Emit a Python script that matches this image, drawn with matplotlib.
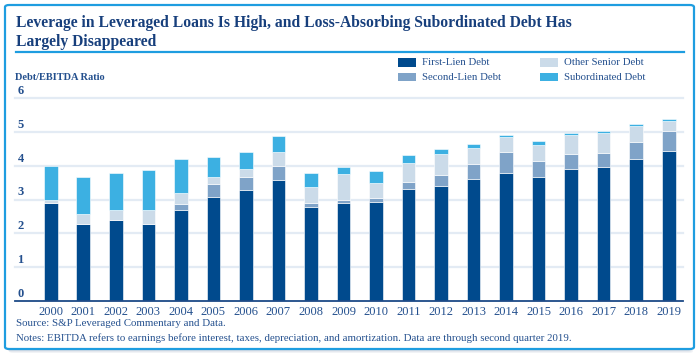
import matplotlib
matplotlib.use('Agg')
import matplotlib.pyplot as plt
import numpy as np
from matplotlib.patches import FancyBboxPatch, Rectangle
from matplotlib.lines import Line2D
import matplotlib.transforms as mtransforms

# ---------------- data ----------------
years = [str(y) for y in range(2000, 2020)]
first_lien = [2.89, 2.28, 2.39, 2.28, 2.69, 3.08, 3.27, 3.57, 2.78, 2.89,
              2.94, 3.30, 3.41, 3.60, 3.80, 3.66, 3.91, 3.96, 4.21, 4.44]
second_lien = [0.0, 0.0, 0.0, 0.0, 0.19, 0.39, 0.41, 0.41, 0.13, 0.10,
               0.11, 0.21, 0.33, 0.45, 0.60, 0.47, 0.44, 0.42, 0.50, 0.60]
other_senior = [0.10, 0.30, 0.30, 0.41, 0.30, 0.21, 0.23, 0.42, 0.47, 0.77,
                0.43, 0.56, 0.60, 0.49, 0.45, 0.48, 0.55, 0.58, 0.47, 0.30]
subordinated = [0.99, 1.10, 1.10, 1.19, 1.01, 0.58, 0.50, 0.47, 0.41, 0.20,
                0.37, 0.25, 0.17, 0.11, 0.05, 0.13, 0.06, 0.06, 0.06, 0.06]
series_labels = ["First-Lien Debt", "Second-Lien Debt", "Other Senior Debt", "Subordinated Debt"]
series_colors = ["#004a8d", "#7fa3c8", "#cbdbe9", "#3cb0e2"]
y_ticks = [0, 1, 2, 3, 4, 5, 6]

title_lines = ["Leverage in Leveraged Loans Is High, and Loss-Absorbing Subordinated Debt Has",
               "Largely Disappeared"]
y_title = "Debt/EBITDA Ratio"
source_txt = "Source: S&P Leveraged Commentary and Data."
notes_txt = ("Notes: EBITDA refers to earnings before interest, taxes, depreciation, "
             "and amortization. Data are through second quarter 2019.")

# ---------------- style ----------------
W, H = 700, 359
SERIF = ["Liberation Serif", "DejaVu Serif"]
TITLE_C = "#173f7c"
TEXT_C = "#24508e"
FRAME_C = "#1e9de0"
GRID_C = "#e3ebf4"

fig = plt.figure(figsize=(W / 100, H / 100), dpi=100)
fig.patch.set_facecolor("white")
renderer = fig.canvas.get_renderer()


def fx(x):
    return x / W


def fy(y):
    return 1 - y / H


def fit_size(s, target_px, **kw):
    t = fig.text(0, 0, s, fontsize=10, **kw)
    w = t.get_window_extent(renderer).width
    t.remove()
    return 10 * target_px / w


# ---------------- frame with shadow ----------------
for i, a in enumerate([0.10, 0.10, 0.12, 0.14]):
    off = 4 - i
    sh = FancyBboxPatch((fx(5 + off), fy(349 + off)), fx(689 - 5), (349 - 5) / H,
                        boxstyle="round,pad=0,rounding_size=0.006",
                        transform=fig.transFigure, facecolor="#7f8fa8", edgecolor="none",
                        alpha=a, zorder=0)
    fig.patches.append(sh)
frame = FancyBboxPatch((fx(5), fy(349)), fx(694 - 5), (349 - 5) / H,
                       boxstyle="round,pad=0,rounding_size=0.006",
                       transform=fig.transFigure, facecolor="white", edgecolor=FRAME_C,
                       linewidth=1.6, zorder=1)
fig.patches.append(frame)

# title
tsize = fit_size("Leverage in Leveraged Loa", 184, family=SERIF, fontweight="bold")
fig.text(fx(16), fy(27), title_lines[0], family=SERIF, fontweight="bold", fontsize=tsize,
         color=TITLE_C, va="baseline", ha="left", zorder=3)
fig.text(fx(16), fy(46), title_lines[1], family=SERIF, fontweight="bold", fontsize=tsize,
         color=TITLE_C, va="baseline", ha="left", zorder=3)
fig.lines.append(Line2D([fx(16), fx(684)], [fy(52), fy(52)], transform=fig.transFigure,
                        color=FRAME_C, linewidth=1.6, zorder=3))

# ---------------- axes ----------------
ax_left, ax_right, ax_bottom, ax_top = 15, 683, 300.7, 98.3
ax = fig.add_axes([fx(ax_left), fy(ax_bottom), fx(ax_right - ax_left), (ax_bottom - ax_top) / H],
                  zorder=2)
ax.set_facecolor("none")

x = np.arange(len(years))
bw = 0.42
bottoms = np.zeros(len(years))
bars = []
for vals, lab, col in zip([first_lien, second_lien, other_senior, subordinated],
                          series_labels, series_colors):
    b = ax.bar(x, vals, bw, bottom=bottoms, color=col, label=lab,
               edgecolor="white", linewidth=0.4, zorder=3)
    bars.append(b)
    bottoms = bottoms + np.array(vals)

ax.set_xlim(-1.1, 19.44)
ax.set_ylim(0, 6)
for v in y_ticks[1:]:
    ax.axhline(v, color=GRID_C, linewidth=1.6, zorder=1, clip_on=False)
for s in ["top", "right", "left"]:
    ax.spines[s].set_visible(False)
ax.spines["bottom"].set_color("#1d4a87")
ax.spines["bottom"].set_linewidth(1.3)
ax.spines["bottom"].set_zorder(4)
ax.set_yticks([])
ax.set_xticks(x)
ax.set_xticklabels(years, family=SERIF, fontsize=9, color=TEXT_C)
ax.tick_params(axis="x", length=0, pad=3.5)

ytrans = mtransforms.offset_copy(
    mtransforms.blended_transform_factory(ax.transAxes, ax.transData),
    fig=fig, x=0, y=7, units="dots")
for v in y_ticks:
    ax.text(2.5 / (ax_right - ax_left), v, str(v), transform=ytrans, family=SERIF,
            fontsize=9, color=TEXT_C, ha="left", va="center", fontweight="bold")

ysize = fit_size(y_title, 90, family=SERIF, fontweight="bold")
fig.text(fx(15), fy(77), y_title, family=SERIF, fontsize=ysize, fontweight="bold",
         color=TEXT_C, ha="left", va="center", zorder=3)

# ---------------- legend ----------------
lsize = fit_size("Second-Lien Debt", 79, family=SERIF)
leg_pos = [(398, 62.5), (398, 77), (540, 62.5), (540, 77)]
for (lx, ly), lab, col in zip(leg_pos, series_labels, series_colors):
    fig.patches.append(Rectangle((fx(lx), fy(ly + 4.2)), fx(18), 8.4 / H,
                                 transform=fig.transFigure, facecolor=col,
                                 edgecolor="none", zorder=3))
    fig.text(fx(lx + 24.5), fy(ly), lab, family=SERIF, fontsize=lsize, color=TEXT_C,
             ha="left", va="center", zorder=3)

# ---------------- source / notes ----------------
nsize = fit_size("Notes: EBITDA refers to earnings before i", 184, family=SERIF)
fig.text(fx(16), fy(324), source_txt, family=SERIF, fontsize=nsize, color=TEXT_C,
         ha="left", va="center", zorder=3)
fig.text(fx(16), fy(338), notes_txt, family=SERIF, fontsize=nsize, color=TEXT_C,
         ha="left", va="center", zorder=3)

fig.savefig("out.png", dpi=100, facecolor="white")
